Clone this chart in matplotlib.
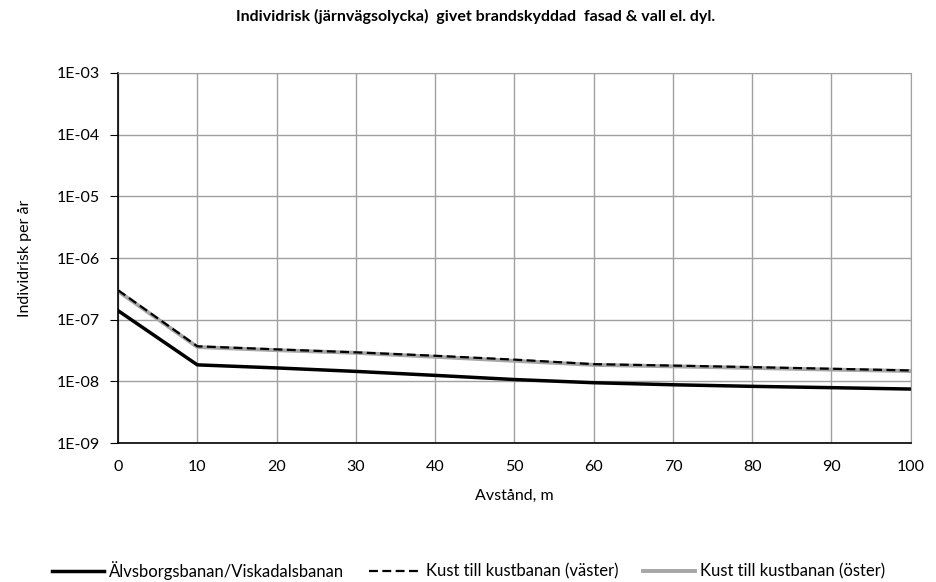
import math
import matplotlib
matplotlib.use("Agg")
import matplotlib.pyplot as plt
from matplotlib.ticker import FixedLocator, FuncFormatter

plt.rcParams['font.family'] = ['Lato', 'DejaVu Sans']

avstand = [0, 10, 20, 30, 40, 50, 60, 70, 80, 90, 100]
alvsborg = [1.4e-7, 1.85e-8, 1.65e-8, 1.45e-8, 1.25e-8, 1.07e-8, 9.5e-9, 8.8e-9, 8.3e-9, 7.9e-9, 7.5e-9]
kust_vaster = [3.0e-7, 3.7e-8, 3.3e-8, 2.95e-8, 2.6e-8, 2.25e-8, 1.9e-8, 1.8e-8, 1.7e-8, 1.6e-8, 1.5e-8]
kust_oster = [2.9e-7, 3.6e-8, 3.2e-8, 2.9e-8, 2.5e-8, 2.15e-8, 1.85e-8, 1.75e-8, 1.65e-8, 1.55e-8, 1.47e-8]

fig = plt.figure(figsize=(9.37, 5.82), dpi=100)
ax = fig.add_axes([0.126, 0.2388, 0.846, 0.6358])

ax.plot(avstand, kust_oster, color='#a6a6a6', lw=2.8, label='Kust till kustbanan (öster)')
ax.plot(avstand, kust_vaster, color='black', lw=1.6, ls=(0, (4, 2)), label='Kust till kustbanan (väster)')
ax.plot(avstand, alvsborg, color='black', lw=2.5, label='Älvsborgsbanan/Viskadalsbanan')

ax.set_yscale('log')
ax.set_ylim(1e-9, 1e-3)
ax.set_xlim(0, 100)
ax.set_xticks(range(0, 101, 10))
ax.yaxis.set_major_locator(FixedLocator([10.0 ** e for e in range(-9, -2)]))
ax.yaxis.set_minor_locator(FixedLocator([]))
ax.yaxis.set_major_formatter(FuncFormatter(lambda v, p: '1E-%02d' % round(-math.log10(v))))

ax.grid(True, color='#a0a0a0', lw=1)
ax.set_axisbelow(True)
for s in ['top', 'right']:
    ax.spines[s].set_color('#a0a0a0')
for s in ['left', 'bottom']:
    ax.spines[s].set_color('black')
    ax.spines[s].set_linewidth(1.2)
ax.tick_params(axis='y', labelsize=11.5, length=6, pad=7, color='black')
ax.tick_params(axis='x', labelsize=11.5, length=0, pad=12)

ax.set_xlabel('Avstånd, m', fontsize=11.5, labelpad=11)
ax.set_ylabel('Individrisk per år', fontsize=11.5, labelpad=18)
fig.suptitle('Individrisk (järnvägsolycka)  givet brandskyddad  fasad & vall el. dyl.',
             fontsize=11.5, fontweight='bold', x=0.508, y=0.985)

h, l = ax.get_legend_handles_labels()
fig.legend(h[::-1], l[::-1], loc='center', ncol=3, frameon=False, fontsize=12,
           bbox_to_anchor=(0.5, 0.02), handlelength=3.1, handletextpad=0.3, columnspacing=1.5)

fig.savefig('out.png', dpi=100)
